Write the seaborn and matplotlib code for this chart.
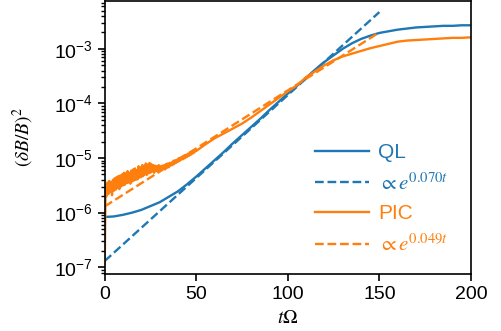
import numpy as np
import pandas as pd
import matplotlib
matplotlib.use("Agg")
import matplotlib.pyplot as plt
import seaborn as sns

# QL run, log10 of (dB/B)^2
ql_t = [0, 5, 10, 15, 20, 25, 30, 35, 40, 45, 50, 55, 60, 65, 70, 75, 80, 85, 90,
        95, 100, 105, 110, 115, 120, 125, 130, 135, 140, 145, 150, 155, 160, 165,
        170, 175, 180, 185, 190, 195, 200]
ql_log = [-6.08, -6.07, -6.04, -6.00, -5.95, -5.88, -5.81, -5.71, -5.61, -5.48,
          -5.34, -5.19, -5.04, -4.89, -4.73, -4.58, -4.43, -4.28, -4.12, -3.97,
          -3.82, -3.68, -3.53, -3.38, -3.24, -3.12, -3.00, -2.90, -2.82, -2.76,
          -2.71, -2.68, -2.65, -2.63, -2.61, -2.60, -2.59, -2.58, -2.58, -2.57, -2.57]

# PIC run: noisy early part every 0.5, then every 5
pic_t_early = list(np.arange(0, 50.5, 0.5))
pic_log_early = [
    -6.95, -5.50, -5.70, -5.45, -5.66, -5.42, -5.62, -5.44, -5.68, -5.40,
    -5.60, -5.37, -5.58, -5.35, -5.55, -5.33, -5.57, -5.32, -5.52, -5.30,
    -5.50, -5.27, -5.49, -5.28, -5.46, -5.24, -5.45, -5.27, -5.47, -5.23,
    -5.43, -5.21, -5.41, -5.19, -5.40, -5.22, -5.39, -5.15, -5.36, -5.17,
    -5.35, -5.13, -5.33, -5.14, -5.30, -5.10, -5.31, -5.12, -5.28, -5.09,
    -5.27, -5.11, -5.25, -5.13, -5.27, -5.14, -5.24, -5.15, -5.25, -5.13,
    -5.23, -5.15, -5.22, -5.14, -5.20, -5.13, -5.21, -5.11, -5.18, -5.10,
    -5.17, -5.09, -5.14, -5.08, -5.13, -5.05, -5.11, -5.04, -5.09, -5.03,
    -5.07, -5.00, -5.05, -4.99, -5.03, -4.97, -5.02, -4.95, -5.00, -4.94,
    -4.98, -4.92, -4.96, -4.90, -4.94, -4.88, -4.92, -4.86, -4.90, -4.85,
    -4.87]
pic_t_late = [55, 60, 65, 70, 75, 80, 85, 90, 95, 100, 105, 110, 115, 120, 125,
              130, 135, 140, 145, 150, 155, 160, 165, 170, 175, 180, 185, 190, 195, 200]
pic_log_late = [-4.75, -4.64, -4.55, -4.46, -4.37, -4.26, -4.14, -4.02, -3.90,
                -3.78, -3.67, -3.52, -3.41, -3.30, -3.21, -3.14, -3.09, -3.04,
                -2.99, -2.95, -2.91, -2.87, -2.85, -2.84, -2.83, -2.82, -2.81,
                -2.80, -2.80, -2.79]

fit_t = [0, 150]
ql_fit = [1.3e-7, 4.7e-3]
pic_fit = [1.3e-6, 2.0e-3]

blue = "#1f77b4"
orange = "#ff7f0e"

# plain matplotlib look (black spines, outward ticks)
plt.rcdefaults()
plt.rcParams["font.family"] = ["Liberation Sans", "DejaVu Sans"]
plt.rcParams["mathtext.fontset"] = "stix"

ql = pd.DataFrame({"t": ql_t, "v": 10 ** np.array(ql_log)})
pic = pd.DataFrame({"t": pic_t_early + pic_t_late,
                    "v": 10 ** np.array(pic_log_early + pic_log_late)})
fits = pd.DataFrame({"t": fit_t, "ql": ql_fit, "pic": pic_fit})

fig = plt.figure(figsize=(5.01, 3.31), dpi=100)
ax = fig.add_axes([0.209, 0.172, 0.731, 0.826])

sns.lineplot(data=ql, x="t", y="v", color=blue, lw=1.7, label="QL", ax=ax)
sns.lineplot(data=fits, x="t", y="ql", color=blue, lw=1.7, ls="--",
             label=r"$\propto e^{0.070t}$", ax=ax)
sns.lineplot(data=pic, x="t", y="v", color=orange, lw=1.7, label="PIC", ax=ax)
sns.lineplot(data=fits, x="t", y="pic", color=orange, lw=1.7, ls="--",
             label=r"$\propto e^{0.049t}$", ax=ax)

ax.set_yscale("log")
ax.set_xlim(0, 200)
ax.set_ylim(7.5e-8, 7.6e-3)
ax.set_xticks([0, 50, 100, 150, 200])
ax.tick_params(which="major", length=5, width=1.2, labelsize=14)
ax.tick_params(which="minor", length=3, width=1.0)
for s in ax.spines.values():
    s.set_linewidth(1.2)
ax.set_xlabel(r"$t\Omega$", fontsize=14, labelpad=5)
ax.set_ylabel(r"$(\delta B/B)^2$", fontsize=14, labelpad=13)

leg = ax.legend(loc="lower right", frameon=False, fontsize=15,
                handlelength=2.6, handletextpad=0.45, labelspacing=0.5,
                bbox_to_anchor=(0.99, 0.0))
for txt, c in zip(leg.get_texts(), [blue, blue, orange, orange]):
    txt.set_color(c)

fig.savefig("out.png", dpi=100)
